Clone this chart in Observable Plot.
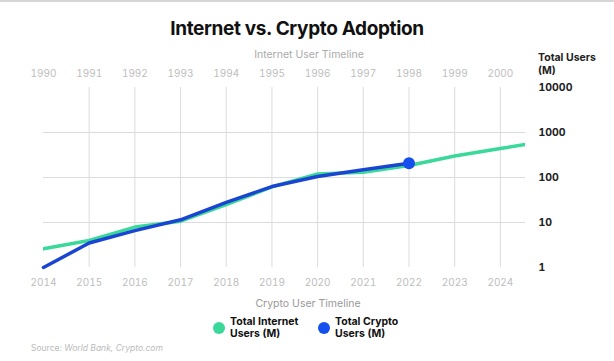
<!DOCTYPE html>
<html>
<head>
<meta charset="utf-8">
<script src="https://cdn.jsdelivr.net/npm/d3@7"></script>
<script src="https://cdn.jsdelivr.net/npm/@observablehq/plot@0.6"></script>
<style>
  html, body { margin: 0; padding: 0; background: #fff; }
  #wrap { position: relative; width: 614px; height: 361px; overflow: hidden; font-family: Inter, "Noto Sans", sans-serif; }
  #wrap svg { position: absolute; left: 0; top: 0; }
  .t { position: absolute; white-space: nowrap; }
  .topline { position: absolute; left: 0; top: 0; width: 614px; height: 2px; background: #d6d6d6; }
</style>
</head>
<body>
<div id="wrap">
  <div class="topline"></div>
  <div class="t" id="title" style="left:0;width:594px;text-align:center;top:18px;font-size:19px;line-height:21px;font-weight:700;color:#111;letter-spacing:-0.35px;">Internet vs. Crypto Adoption</div>
  <div class="t" style="left:0;width:618px;text-align:center;top:49px;font-size:10.5px;line-height:12px;color:#aaa;">Internet User Timeline</div>
  <div class="t" style="left:538px;top:51px;font-size:10.5px;line-height:13px;font-weight:700;color:#222;">Total Users<br>(M)</div>
  <div class="t" style="left:0;width:616px;text-align:center;top:298px;font-size:10.5px;line-height:12px;color:#999;">Crypto User Timeline</div>
  <div class="t" style="left:213px;top:322px;width:12px;height:12px;border-radius:6px;background:#3ad99a;"></div>
  <div class="t" style="left:230px;top:316px;font-size:10.5px;line-height:12px;font-weight:700;color:#111;">Total Internet<br>Users (M)</div>
  <div class="t" style="left:318px;top:322px;width:12px;height:12px;border-radius:6px;background:#1550ee;"></div>
  <div class="t" style="left:335px;top:316px;font-size:10.5px;line-height:12px;font-weight:700;color:#111;">Total Crypto<br>Users (M)</div>
  <div class="t" style="left:31px;top:343px;font-size:8.5px;line-height:10px;color:#bbb;">Source: <i>World Bank, Crypto.com</i></div>
</div>
<script>
// Internet user timeline (top axis), millions
const internetYears = [1990, 1991, 1992, 1993, 1994, 1995, 1996, 1997, 1998, 1999, 2000, 2001];
const internetUsers = [2.6, 4.0, 7.9, 10.7, 25, 62, 120, 131, 185, 300, 440, 650];
// Crypto user timeline (bottom axis) — millions
const cryptoYears = [2014, 2015, 2016, 2017, 2018, 2019, 2020, 2021, 2022];
const cryptoUsers = [1.0, 3.5, 6.6, 11.5, 28, 63, 105, 148, 208];
// Tick labels
const bottomTicks = [2014, 2015, 2016, 2017, 2018, 2019, 2020, 2021, 2022, 2023, 2024];
const yTicks = [1, 10, 100, 1000, 10000];
const yGrid = [10, 100, 1000];
const OFFSET = 24; // 1990 aligned with 2014

const internet = internetYears.map((y, i) => ({x: y + OFFSET, users: internetUsers[i]}));
const crypto = cryptoYears.map((y, i) => ({x: y, users: cryptoUsers[i]}));

const chart = Plot.plot({
  width: 614,
  height: 361,
  marginTop: 87,
  marginBottom: 94,
  marginLeft: 43,
  marginRight: 89,
  style: {fontFamily: "Inter, 'Noto Sans', sans-serif", background: "transparent"},
  x: {type: "linear", domain: [2014, 2024.55]},
  y: {type: "log", domain: [1, 10000]},
  marks: [
    Plot.gridX(bottomTicks.slice(1), {stroke: "#dcdcdc", strokeOpacity: 1}),
    Plot.gridY(yGrid, {stroke: "#dcdcdc", strokeOpacity: 1}),
    Plot.axisX(bottomTicks, {anchor: "bottom", tickSize: 0, tickPadding: 11, tickFormat: d => String(d), fill: "#bdbdbd", fontSize: 10, label: null}),
    Plot.axisX(bottomTicks, {anchor: "top", tickSize: 0, tickPadding: 11, tickFormat: d => String(d - OFFSET), fill: "#bdbdbd", fontSize: 10, label: null}),
    Plot.axisY(yTicks, {anchor: "right", tickSize: 0, tickPadding: 13, tickFormat: d3.format("d"), fill: "#222", fontWeight: 700, fontSize: 10.5, label: null}),
    Plot.line(internet, {x: "x", y: "users", stroke: "#3ad99a", strokeWidth: 3.5, clip: true}),
    Plot.line(crypto, {x: "x", y: "users", stroke: "#1a45d2", strokeWidth: 3.5}),
    Plot.dot(crypto.slice(-1), {x: "x", y: "users", r: 6, fill: "#1550ee"})
  ]
});
document.getElementById("wrap").appendChild(chart);
</script>
</body>
</html>
